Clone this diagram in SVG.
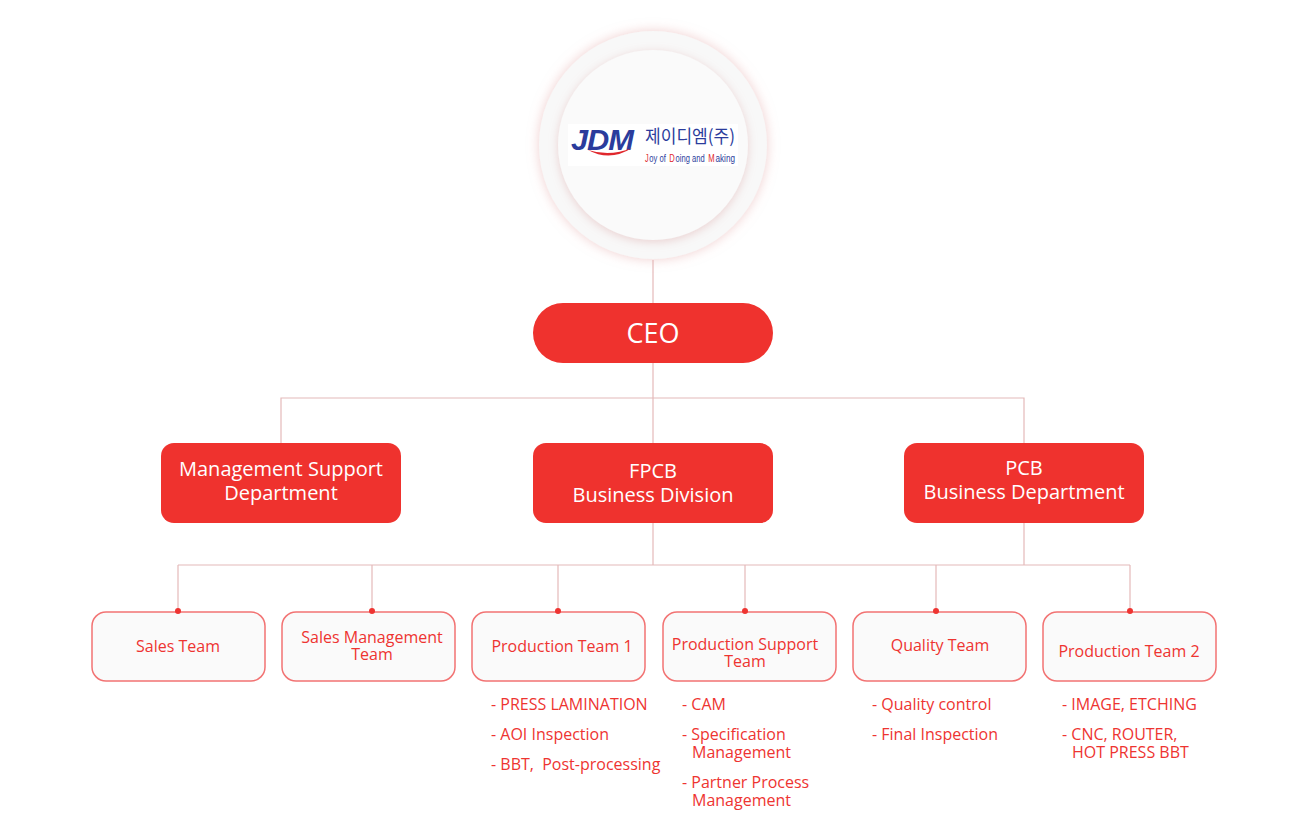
<svg xmlns="http://www.w3.org/2000/svg" width="1305" height="818" viewBox="0 0 1305 818">
<defs>
<style>
.conn{stroke:#e4b9b9;stroke-width:1.2;fill:none}
.dot{fill:#ee3431}
.main{fill:#ef322e}
.mtxt{font-family:"Open Sans","Liberation Sans",sans-serif;font-size:20px;fill:#ffffff;text-anchor:middle}
.ceo{font-size:27px}
.team{fill:#fafafa;stroke:#f27373;stroke-width:1.5}
.ttxt{font-family:"Open Sans","Liberation Sans",sans-serif;font-size:16px;fill:#ee3431;text-anchor:middle}
.ltxt{font-family:"Open Sans","Liberation Sans",sans-serif;font-size:16px;fill:#ee3431}
.lg{font-family:"Liberation Sans",Arial,sans-serif;font-size:10.5px;fill:#2b3c9c}
.lgr{fill:#e0272c}
</style>
<filter id="glowOuter" x="-30%" y="-30%" width="160%" height="160%">
<feDropShadow dx="0" dy="0" stdDeviation="6" flood-color="#e4a6a6" flood-opacity="0.55"/>
</filter>
<filter id="glowInner" x="-30%" y="-30%" width="160%" height="160%">
<feDropShadow dx="0" dy="2" stdDeviation="5" flood-color="#d9a0a0" flood-opacity="0.45"/>
</filter>
</defs>
<rect width="1305" height="818" fill="#ffffff"/>

<g id="connectors">
<line class="conn" x1="653" y1="260" x2="653" y2="303"/>
<line class="conn" x1="653" y1="363" x2="653" y2="443"/>
<polyline class="conn" points="281,443 281,398 1024,398 1024,443"/>
<line class="conn" x1="653" y1="523" x2="653" y2="565"/>
<line class="conn" x1="1024" y1="523" x2="1024" y2="565"/>
<line class="conn" x1="178" y1="565" x2="1130" y2="565"/>
<line class="conn" x1="178" y1="565" x2="178" y2="611"/>
<line class="conn" x1="372" y1="565" x2="372" y2="611"/>
<line class="conn" x1="558" y1="565" x2="558" y2="611"/>
<line class="conn" x1="745" y1="565" x2="745" y2="611"/>
<line class="conn" x1="936" y1="565" x2="936" y2="611"/>
<line class="conn" x1="1130" y1="565" x2="1130" y2="611"/>
</g>

<g id="logo">
<circle cx="653" cy="145" r="114" fill="#f8f8f8" filter="url(#glowOuter)"/>
<circle cx="653" cy="145" r="95" fill="#fafafa" filter="url(#glowInner)"/>
<rect x="568" y="124" width="170" height="42" fill="#ffffff"/>
<text x="571" y="150" font-family="'Liberation Sans',Arial,sans-serif" font-size="30" font-style="italic" font-weight="bold" fill="#2b3c9c" letter-spacing="-1" textLength="62" lengthAdjust="spacingAndGlyphs">JDM</text>
<path d="M588,150 Q610,162 632,148 Q610,157 588,150 Z" fill="#e0272c"/>
<text x="645" y="143" font-family="'Noto Sans CJK KR',sans-serif" font-size="18" fill="#2b3c9c" textLength="90" lengthAdjust="spacingAndGlyphs">제이디엠(주)</text>
<text class="lg lgr" x="645" y="162" textLength="3.6" lengthAdjust="spacingAndGlyphs">J</text>
<text class="lg" x="649.3" y="162" textLength="16.5" lengthAdjust="spacingAndGlyphs">oy of</text>
<text class="lg lgr" x="669.3" y="162" textLength="5.5" lengthAdjust="spacingAndGlyphs">D</text>
<text class="lg" x="675.6" y="162" textLength="29" lengthAdjust="spacingAndGlyphs">oing and</text>
<text class="lg lgr" x="708.2" y="162" textLength="6.4" lengthAdjust="spacingAndGlyphs">M</text>
<text class="lg" x="715.5" y="162" textLength="19.5" lengthAdjust="spacingAndGlyphs">aking</text>
</g>

<g id="ceo">
<rect class="main" x="533" y="303" width="240" height="60" rx="30"/>
<text class="mtxt ceo" x="653" y="343">CEO</text>
</g>

<g id="mgmt">
<rect class="main" x="161" y="443" width="240" height="80" rx="13"/>
<text class="mtxt" x="281" y="476">Management Support<tspan x="281" dy="24">Department</tspan></text>
</g>
<g id="fpcb">
<rect class="main" x="533" y="443" width="240" height="80" rx="13"/>
<text class="mtxt" x="653" y="478">FPCB<tspan x="653" dy="24">Business Division</tspan></text>
</g>
<g id="pcb">
<rect class="main" x="904" y="443" width="240" height="80" rx="13"/>
<text class="mtxt" x="1024" y="475">PCB<tspan x="1024" dy="24">Business Department</tspan></text>
</g>

<g id="sales">
<rect class="team" x="92" y="612" width="173" height="69" rx="14"/>
<text class="ttxt" x="178" y="652">Sales Team</text>
</g>
<g id="salesmgmt">
<rect class="team" x="282" y="612" width="173" height="69" rx="14"/>
<text class="ttxt" x="372" y="643">Sales Management<tspan x="372" dy="17">Team</tspan></text>
</g>
<g id="prod1">
<rect class="team" x="472" y="612" width="173" height="69" rx="14"/>
<text class="ttxt" x="562" y="652">Production Team 1</text>
<text class="ltxt" x="491" y="710" xml:space="preserve">- PRESS LAMINATION<tspan x="491" dy="30">- AOI Inspection</tspan><tspan x="491" dy="30">- BBT,  Post-processing</tspan></text>
</g>
<g id="prodsupport">
<rect class="team" x="663" y="612" width="173" height="69" rx="14"/>
<text class="ttxt" x="745" y="650">Production Support<tspan x="745" dy="17">Team</tspan></text>
<text class="ltxt" x="682" y="710">- CAM<tspan x="682" dy="30">- Specification</tspan><tspan x="692" dy="18">Management</tspan><tspan x="682" dy="30">- Partner Process</tspan><tspan x="692" dy="18">Management</tspan></text>
</g>
<g id="quality">
<rect class="team" x="853" y="612" width="173" height="69" rx="14"/>
<text class="ttxt" x="940" y="651">Quality Team</text>
<text class="ltxt" x="872" y="710">- Quality control<tspan x="872" dy="30">- Final Inspection</tspan></text>
</g>
<g id="prod2">
<rect class="team" x="1043" y="612" width="173" height="69" rx="14"/>
<text class="ttxt" x="1129" y="657">Production Team 2</text>
<text class="ltxt" x="1062" y="710">- IMAGE, ETCHING<tspan x="1062" dy="30">- CNC, ROUTER,</tspan><tspan x="1072" dy="18">HOT PRESS BBT</tspan></text>
</g>

<g id="dots">
<circle class="dot" cx="178" cy="611" r="3"/>
<circle class="dot" cx="372" cy="611" r="3"/>
<circle class="dot" cx="558" cy="611" r="3"/>
<circle class="dot" cx="745" cy="611" r="3"/>
<circle class="dot" cx="936" cy="611" r="3"/>
<circle class="dot" cx="1130" cy="611" r="3"/>
</g>
</svg>
